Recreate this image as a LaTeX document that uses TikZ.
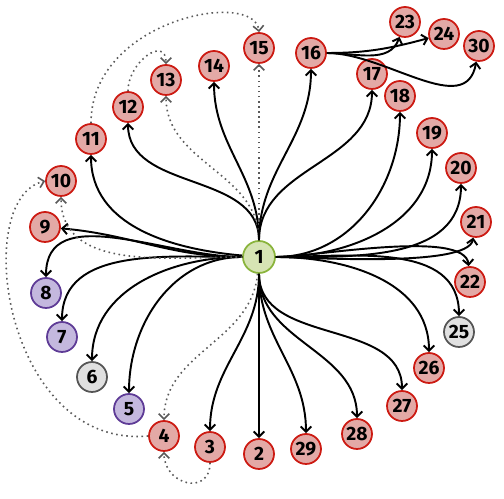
\documentclass[tikz,border=0pt]{standalone}
\usepackage{fontspec}
\setmainfont{Fira Sans}
\usepackage{xcolor}
\usepackage{tikz}
\usetikzlibrary{arrows.meta}
\definecolor{redfill}{HTML}{E3A9A6}
\definecolor{redline}{HTML}{CC1A12}
\definecolor{purplefill}{HTML}{C4B8DE}
\definecolor{purpleline}{HTML}{5E3B96}
\definecolor{grayfill}{HTML}{E0E0E0}
\definecolor{grayline}{HTML}{555555}
\definecolor{greenfill}{HTML}{D6E4B4}
\definecolor{greenline}{HTML}{8AB43C}

\begin{document}
\begin{tikzpicture}[x=0.02cm, y=0.02cm,
    vertex/.style={circle, line width=1pt, minimum size=0.6cm, inner sep=0pt, font=\fontsize{11}{13}\selectfont\bfseries},
    rednode/.style={vertex, fill=redfill, draw=redline},
    purplenode/.style={vertex, fill=purplefill, draw=purpleline},
    graynode/.style={vertex, fill=grayfill, draw=grayline},
    rootnode/.style={vertex, fill=greenfill, draw=greenline, minimum size=0.64cm},
    link/.style={line width=1.1pt, -{Straight Barb[length=3pt, width=6pt]}},
    weaklink/.style={dotted, line width=0.9pt, draw=black!65, -{Straight Barb[length=3pt, width=6pt]}}]
    \useasboundingbox (0,0) rectangle (504,499);

    \node[rootnode] (n1) at (259,242) {1};
    \node[rednode] (n2) at (259,45) {2};
    \node[rednode] (n3) at (210,52) {3};
    \node[rednode] (n4) at (164,63) {4};
    \node[purplenode] (n5) at (129,90) {5};
    \node[graynode] (n6) at (92,122) {6};
    \node[purplenode] (n7) at (62,162) {7};
    \node[purplenode] (n8) at (46,206) {8};
    \node[rednode] (n9) at (45,272) {9};
    \node[rednode] (n10) at (61,318) {10};
    \node[rednode] (n11) at (91,360) {11};
    \node[rednode] (n12) at (128,392) {12};
    \node[rednode] (n13) at (166,419) {13};
    \node[rednode] (n14) at (214,433) {14};
    \node[rednode] (n15) at (259,451) {15};
    \node[rednode] (n16) at (311,446) {16};
    \node[rednode] (n17) at (372,425) {17};
    \node[rednode] (n18) at (400,403) {18};
    \node[rednode] (n19) at (432,366) {19};
    \node[rednode] (n20) at (461,331) {20};
    \node[rednode] (n21) at (476,277) {21};
    \node[rednode] (n22) at (470,217) {22};
    \node[rednode] (n23) at (405,477) {23};
    \node[rednode] (n24) at (444,465) {24};
    \node[graynode] (n25) at (459,167) {25};
    \node[rednode] (n26) at (429,131) {26};
    \node[rednode] (n27) at (402,93) {27};
    \node[rednode] (n28) at (357,65) {28};
    \node[rednode] (n29) at (306,50) {29};
    \node[rednode] (n30) at (479,453) {30};

    % downwards
    \draw[link] (n1) -- (n2);
    \draw[link] (n1) to[out=270, in=90] (n3);
    \draw[weaklink] (n1) to[out=265, in=90] (n4);
    \draw[link] (n1) to[out=270, in=90] (n29);
    \draw[link] (n1) to[out=270, in=90] (n28);
    \draw[link] (n1) to[out=270, in=90] (n27);
    % left side
    \draw[link] (n1) to[out=180, in=90] (n5);
    \draw[link] (n1) to[out=180, in=90] (n6);
    \draw[link] (n1) to[out=180, in=90] (n7);
    \draw[link] (n1) to[out=180, in=90] (n8);
    \draw[link] (n1) to[out=180, in=-5] (n9);
    \draw[weaklink] (n1) to[out=180, in=270] (n10);
    \draw[link] (n1) to[out=175, in=270] (n11);
    % upwards
    \draw[link] (n1) to[out=90, in=270] (n12);
    \draw[weaklink] (n1) to[out=90, in=270] (n13);
    \draw[link] (n1) to[out=90, in=270] (n14);
    \draw[weaklink] (n1) -- (n15);
    \draw[link] (n1) to[out=90, in=270] (n16);
    \draw[link] (n1) to[out=90, in=270] (n17);
    % right side
    \draw[link] (n1) to[out=0, in=270] (n18);
    \draw[link] (n1) to[out=0, in=270] (n19);
    \draw[link] (n1) to[out=0, in=270] (n20);
    \draw[link] (n1) to[out=0, in=260, looseness=0.4] (n21);
    \draw[link] (n1) to[out=0, in=95, looseness=0.5] (n22);
    \draw[link] (n1) to[out=0, in=90] (n25);
    \draw[link] (n1) to[out=0, in=90] (n26);
    % from 16
    \draw[link] (n16) to[out=0, in=250] (n23);
    \draw[link] (n16) to[out=0, in=195] (n24);
    \draw[link] (n16) to[out=0, in=260] (n30);
    % dotted arcs
    \draw[weaklink] (n11.north) .. controls (91,480) and (255,510) .. (n15.north);
    \draw[weaklink] (n12) to[out=90, in=90, looseness=1.6] (n13);
    \draw[weaklink] (n4.west) .. controls (5,50) and (-30,300) .. (n10.west);
    \draw[weaklink] (n3) to[out=270, in=270, looseness=1.8] (n4);
\end{tikzpicture}
\end{document}
